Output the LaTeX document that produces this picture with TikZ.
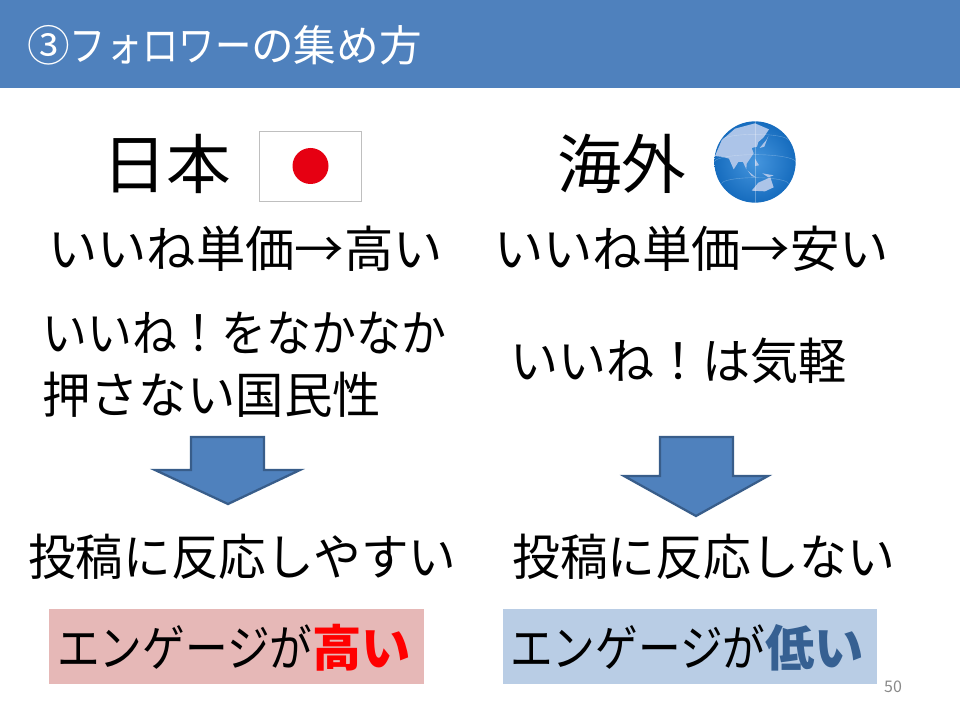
\documentclass[tikz,border=0pt]{standalone}
\usepackage{fontspec}
\setmainfont{Noto Sans CJK JP}
\newcommand{\squeeze}[2]{{\addfontfeature{FakeStretch=#1}#2}}
\definecolor{headblue}{RGB}{79,129,189}
\definecolor{arrowline}{RGB}{56,93,138}
\definecolor{pinkbox}{RGB}{230,184,183}
\definecolor{bluebox}{RGB}{185,205,229}
\definecolor{lowblue}{RGB}{54,96,146}
\definecolor{flagred}{RGB}{230,0,18}
\definecolor{pagenum}{RGB}{137,137,137}
\definecolor{seablue}{RGB}{22,108,190}
\definecolor{seainner}{RGB}{70,150,222}
\definecolor{landblue}{RGB}{172,196,232}
\begin{document}
\begin{tikzpicture}[x=0.75pt,y=-0.75pt,
	txt/.style={anchor=west,inner sep=0pt,font=\fontsize{37}{37}\selectfont},
	big/.style={anchor=west,inner sep=0pt,font=\fontsize{48.5}{49}\selectfont},
	downarrow/.style={draw=arrowline,line width=1.7pt,fill=headblue,line join=miter},
	land/.style={fill=landblue,draw=none},
	grid/.style={draw=white,opacity=0.3,line width=0.3pt}]
	\useasboundingbox (0,0) rectangle (960,720);
	% header
	\fill[headblue] (0,0) rectangle (960,88);
	\node [txt,text=white,font=\fontsize{32}{32}\selectfont] (title) at (27,45) {③\squeeze{0.85}{フォロワー}の集め方};
	% left column
	\node [big] (japan) at (102,164) {日本};
	\node [draw=black!25,line width=0.6pt,minimum width=77pt,minimum height=52.5pt,inner sep=0pt] (flag) at (310.5,166) {};
	\node [circle,fill=flagred,minimum size=27pt,inner sep=0pt] (sun) at (flag.center) {};
	\node [txt] (priceJ) at (48,249) {いいね単価→高い};
	\node [txt] (habitJa) at (42,333) {\squeeze{0.91}{いいね！をなかなか}};
	\node [txt] (habitJb) at (42,395) {\squeeze{0.98}{押さない国民性}};
	\draw [downarrow] (191,437) -- (264,437) -- (264,470) -- (300,470) -- (228,504) -- (155,470) -- (191,470) -- cycle;
	\node [txt] (reactJ) at (28,557) {\squeeze{0.965}{投稿に反応しやすい}};
	\node [fill=pinkbox,minimum width=281pt,minimum height=56pt,inner sep=0pt] (boxJ) at (236.5,646.5) {};
	\node [txt] (engJ) at (57,648) {\squeeze{0.865}{エンゲージが}\textcolor{red}{\textbf{高い}}};
	% right column
	\node [big] (abroad) at (557,164) {海外};
	\shade [inner color=seainner,outer color=seablue] (755,162) circle [radius=30.5pt];
	\begin{scope}[shift={(705,112)},x=0.25pt,y=-0.25pt]
		\clip (150,150) circle [radius=122];
		\fill [land] (30,132) -- (50,85) -- (90,50) -- (150,34) -- (192,52) -- (176,76) -- (160,90) -- (156,104) -- (140,108) -- (146,124) -- (125,155) -- (124,172) -- (114,150) -- (100,150) -- (86,172) -- (72,140) -- (55,135) -- cycle;
		\fill [land] (190,72) -- (178,104) -- (164,108) -- (184,84) -- cycle;
		\fill [land] (140,236) -- (160,212) -- (196,196) -- (206,226) -- (180,238) -- cycle;
		\fill [land] (128,176) -- (152,196) -- (140,192) -- cycle;
		\fill [land] (150,140) -- (162,160) -- (150,162) -- cycle;
		\fill [land] (172,184) -- (206,190) -- (190,196) -- cycle;
		\draw [grid] (150,28) arc [start angle=90,end angle=-90,x radius=50,y radius=122];
		\draw [grid] (150,28) arc [start angle=90,end angle=-90,x radius=95,y radius=122];
		\draw [grid] (150,28) -- (150,272);
		\draw [grid] (150,28) arc [start angle=90,end angle=270,x radius=50,y radius=122];
		\draw [grid] (28,150) arc [start angle=180,end angle=360,x radius=122,y radius=22];
		\draw [grid] (50,85) arc [start angle=180,end angle=360,x radius=100,y radius=18];
		\draw [grid] (50,215) arc [start angle=180,end angle=360,x radius=100,y radius=18];
	\end{scope}
	\node [txt] (priceO) at (494,249) {いいね単価→安い};
	\node [txt] (habitO) at (510,361) {\squeeze{0.975}{いいね！は気軽}};
	\draw [downarrow] (660,437) -- (733,437) -- (733,476) -- (768,476) -- (696,516) -- (624,476) -- (660,476) -- cycle;
	\node [txt] (reactO) at (512,557) {\squeeze{0.97}{投稿に反応しない}};
	\node [fill=bluebox,minimum width=281pt,minimum height=56pt,inner sep=0pt] (boxO) at (690,646.5) {};
	\node [txt] (engO) at (510,648) {\squeeze{0.865}{エンゲージが}\textcolor{lowblue}{\textbf{低い}}};
	\node [anchor=center,inner sep=0pt,text=pagenum,font=\fontsize{12}{12}\selectfont] (page) at (893,687) {50};
\end{tikzpicture}
\end{document}
